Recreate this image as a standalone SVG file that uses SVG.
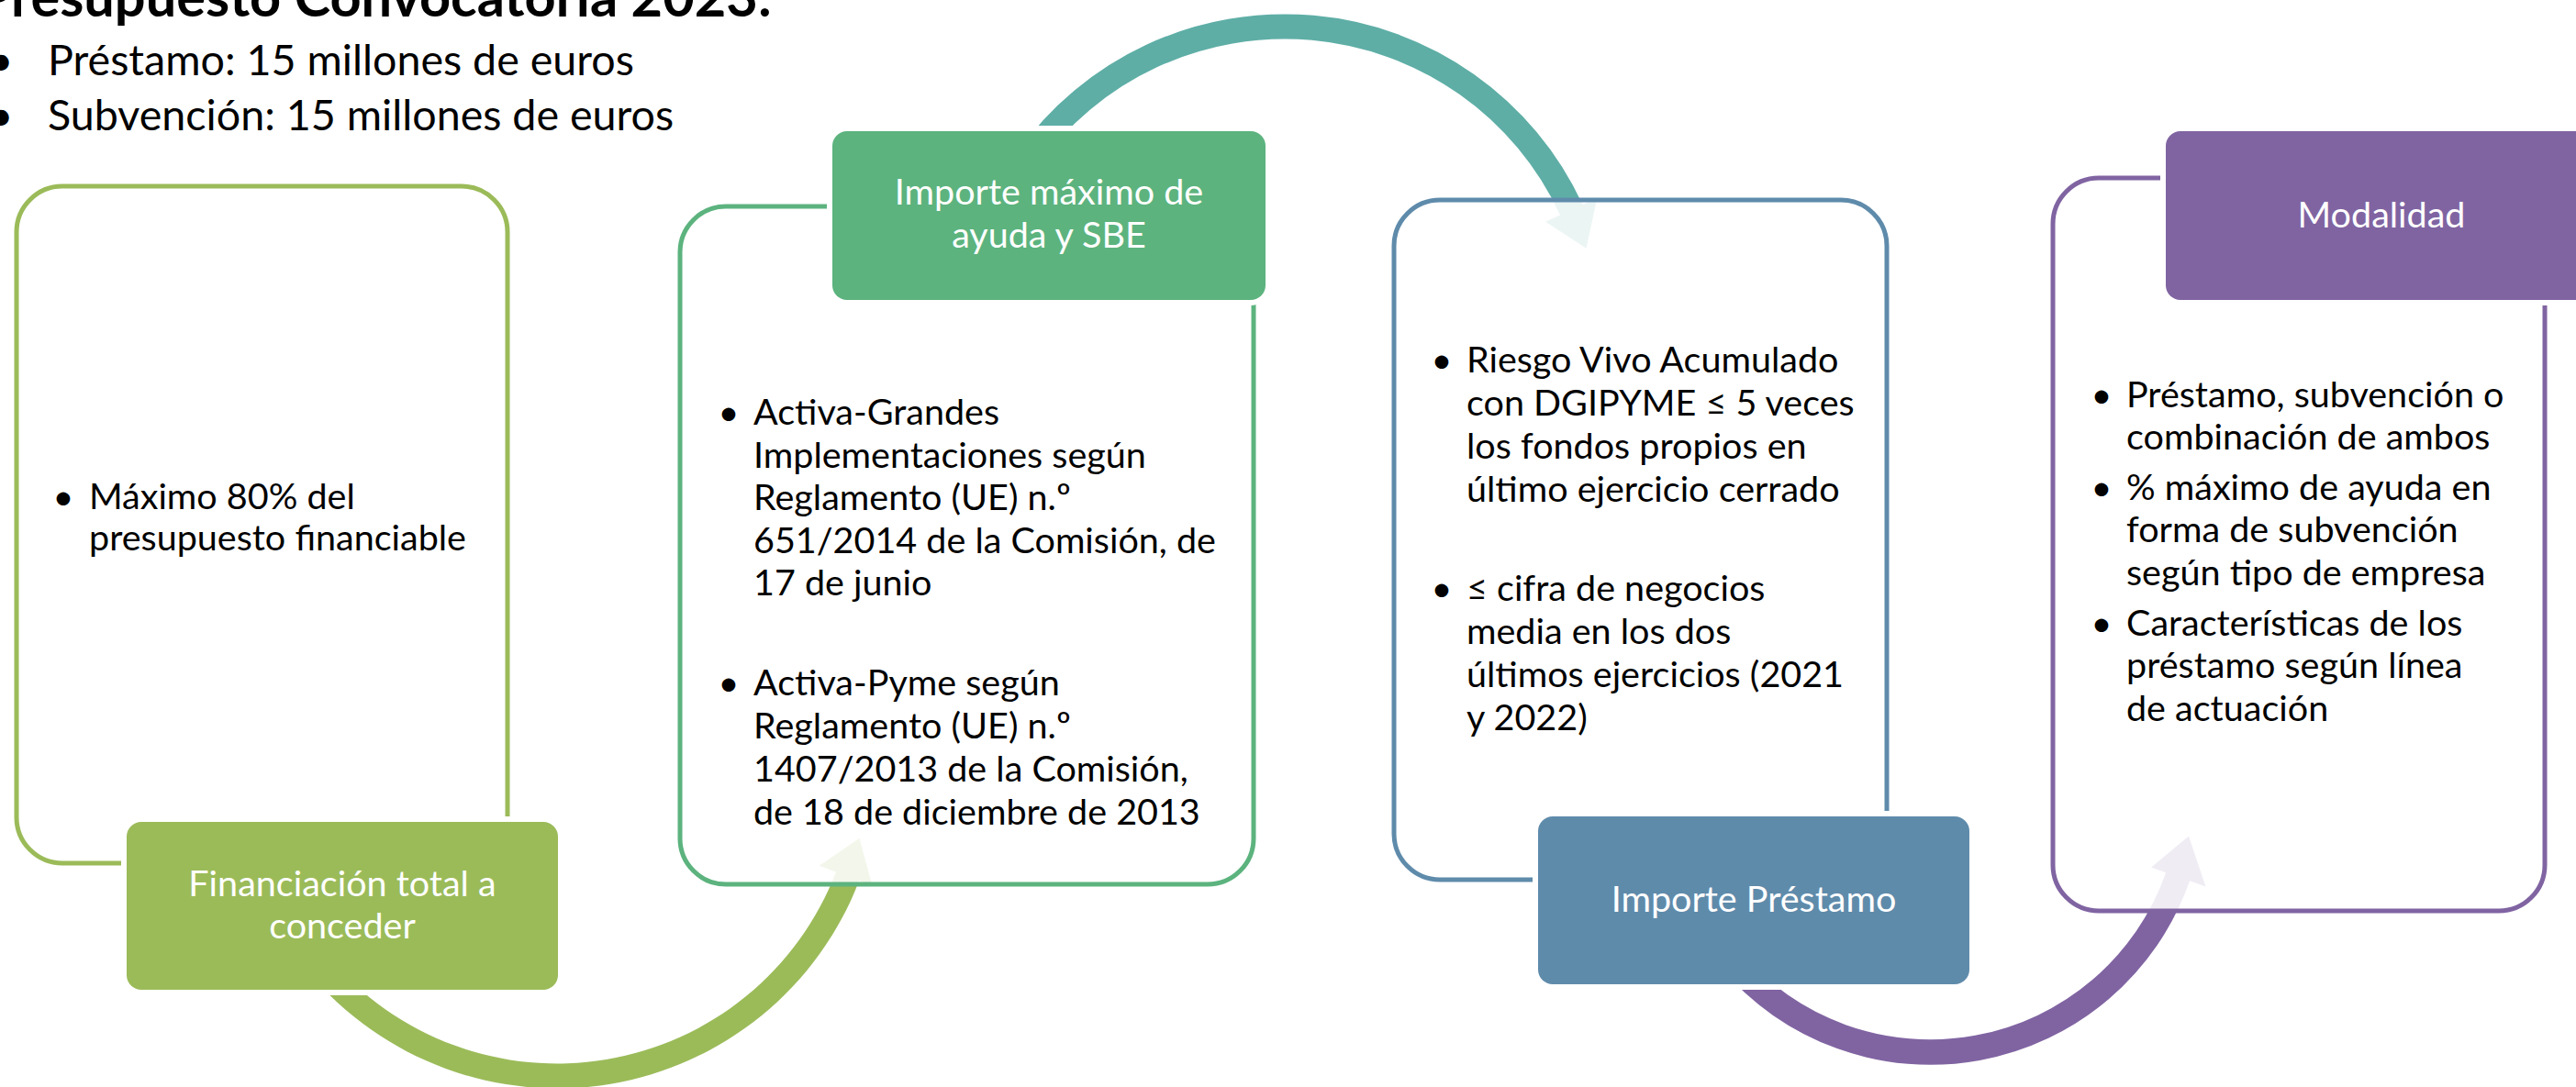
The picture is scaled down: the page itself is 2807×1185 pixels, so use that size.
<svg xmlns="http://www.w3.org/2000/svg" width="2807" height="1185" viewBox="0 0 2807 1185">
<style>
.t{font-family:Lato,"Liberation Sans","DejaVu Sans",sans-serif;fill:#000}
.b{font-size:39.5px}
.h{font-size:39.5px;fill:#fff;text-anchor:middle}
.dot{text-anchor:middle}
.frame{fill:#fff;fill-opacity:0.88;stroke-width:5}
.hdr{stroke:#fff;stroke-width:12;paint-order:stroke fill}
</style>
<rect width="2807" height="1185" fill="#fff"/>
<g id="title">
<text class="t" x="841" y="18" text-anchor="end" font-weight="bold" font-size="59.5">Presupuesto Convocatoria 2023:</text>
<text class="t dot" x="1" y="82" font-size="46.6">•</text>
<text class="t" x="52" y="82" font-size="46.6">Préstamo: 15 millones de euros</text>
<text class="t dot" x="1" y="142" font-size="46.6">•</text>
<text class="t" x="52" y="142" font-size="46.6">Subvención: 15 millones de euros</text>
</g>
<g id="connectors">
<path id="arrow-1-2" fill="#9BBB59" d="M 337.0 1060.6 A 352.5 352.5 0 0 0 936.1 960.3 L 950.6 965.9 L 936.5 913.7 L 892.7 943.7 L 910.9 950.7 A 325.5 325.5 0 0 1 357.7 1043.2 Z"/>
<path id="arrow-2-3" fill="#5EAEA6" d="M 1107.1 167.9 A 357.5 357.5 0 0 1 1724.5 223.0 L 1740.4 215.7 L 1728.5 270.7 L 1684.1 241.7 L 1700.0 234.4 A 330.5 330.5 0 0 0 1129.3 183.4 Z"/>
<path id="arrow-3-4" fill="#8064A2" d="M 1874.0 1053.8 A 299.5 299.5 0 0 0 2386.1 960.3 L 2403.5 966.4 L 2385.0 911.5 L 2344.1 945.6 L 2360.1 951.2 A 272 272 0 0 1 1895.0 1036.1 Z"/>
</g>
<g id="node-financiacion">
<rect class="frame" x="18" y="203" width="535" height="738" rx="50" stroke="#9BBB59"/>
<text class="t b dot" x="69" y="555">•</text>
<text class="t b" x="97" y="555">Máximo 80% del</text>
<text class="t b" x="97" y="600">presupuesto financiable</text>
<rect class="hdr" x="138" y="896" width="470" height="183" rx="16" fill="#9BBB59"/>
<text class="t h" x="373" y="977">Financiación total a</text>
<text class="t h" x="373" y="1023">conceder</text>
</g>
<g id="node-importe-maximo">
<rect class="frame" x="741" y="225" width="625" height="739" rx="50" stroke="#5CB37E"/>
<text class="t b dot" x="794" y="463">•</text>
<text class="t b" x="821" y="463">Activa-Grandes</text>
<text class="t b" x="821" y="510">Implementaciones según</text>
<text class="t b" x="821" y="556">Reglamento (UE) n.º</text>
<text class="t b" x="821" y="603">651/2014 de la Comisión, de</text>
<text class="t b" x="821" y="649">17 de junio</text>
<text class="t b dot" x="794" y="758">•</text>
<text class="t b" x="821" y="758">Activa-Pyme según</text>
<text class="t b" x="821" y="805">Reglamento (UE) n.º</text>
<text class="t b" x="821" y="852">1407/2013 de la Comisión,</text>
<text class="t b" x="821" y="899">de 18 de diciembre de 2013</text>
<rect class="hdr" x="907" y="143" width="472" height="184" rx="16" fill="#5CB37E"/>
<text class="t h" x="1143" y="223">Importe máximo de</text>
<text class="t h" x="1143" y="270">ayuda y SBE</text>
</g>
<g id="node-importe-prestamo">
<rect class="frame" x="1519" y="218" width="537" height="741" rx="50" stroke="#5F8BAB"/>
<text class="t b dot" x="1571" y="406">•</text>
<text class="t b" x="1598" y="406">Riesgo Vivo Acumulado</text>
<text class="t b" x="1598" y="453">con DGIPYME ≤ 5 veces</text>
<text class="t b" x="1598" y="500">los fondos propios en</text>
<text class="t b" x="1598" y="547">último ejercicio cerrado</text>
<text class="t b dot" x="1571" y="655">•</text>
<text class="t b" x="1598" y="655">≤ cifra de negocios</text>
<text class="t b" x="1598" y="702">media en los dos</text>
<text class="t b" x="1598" y="749">últimos ejercicios (2021</text>
<text class="t b" x="1598" y="796">y 2022)</text>
<rect class="hdr" x="1676" y="890" width="470" height="183" rx="16" fill="#5F8BAB"/>
<text class="t h" x="1911" y="994">Importe Préstamo</text>
</g>
<g id="node-modalidad">
<rect class="frame" x="2237" y="194" width="536" height="799" rx="50" stroke="#8064A2"/>
<text class="t b dot" x="2290" y="444">•</text>
<text class="t b" x="2317" y="444">Préstamo, subvención o</text>
<text class="t b" x="2317" y="490">combinación de ambos</text>
<text class="t b dot" x="2290" y="545">•</text>
<text class="t b" x="2317" y="545">% máximo de ayuda en</text>
<text class="t b" x="2317" y="591">forma de subvención</text>
<text class="t b" x="2317" y="638">según tipo de empresa</text>
<text class="t b dot" x="2290" y="693">•</text>
<text class="t b" x="2317" y="693">Características de los</text>
<text class="t b" x="2317" y="739">préstamo según línea</text>
<text class="t b" x="2317" y="786">de actuación</text>
<rect class="hdr" x="2360" y="143" width="472" height="184" rx="16" fill="#8064A2"/>
<text class="t h" x="2595" y="248">Modalidad</text>
</g>
</svg>
